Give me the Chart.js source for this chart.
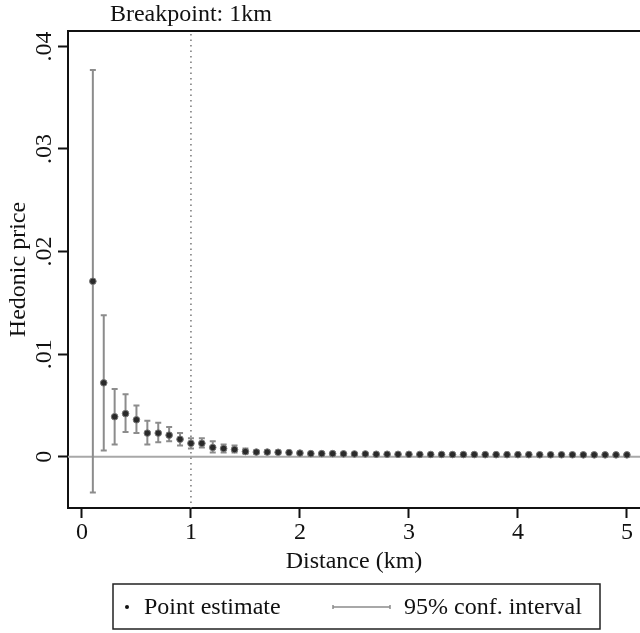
<!DOCTYPE html>
<html><head><meta charset="utf-8">
<script src="https://cdn.jsdelivr.net/npm/chart.js@4"></script>
<style>html,body{margin:0;padding:0;background:#fff;overflow:hidden}</style>
</head><body>
<canvas id="c" width="640" height="633"></canvas>
<script>
// ---- data ----
const distances = [0.1,0.2,0.3,0.4,0.5,0.6,0.7,0.8,0.9,1.0,
                   1.1,1.2,1.3,1.4,1.5,1.6,1.7,1.8,1.9,2.0,
                   2.1,2.2,2.3,2.4,2.5,2.6,2.7,2.8,2.9,3.0,
                   3.1,3.2,3.3,3.4,3.5,3.6,3.7,3.8,3.9,4.0,
                   4.1,4.2,4.3,4.4,4.5,4.6,4.7,4.8,4.9,5.0];
const estimates = [0.0171,0.0072,0.0039,0.0042,0.0036,0.0023,0.0023,0.0021,0.0017,0.0013,
                   0.0013,0.0009,0.0008,0.0007,0.0005,0.00045,0.00045,0.00043,0.0004,0.00035,
                   0.0003,0.0003,0.0003,0.00028,0.00027,0.00027,0.00024,0.00024,0.00023,0.00023,
                   0.00022,0.00022,0.00022,0.00021,0.00021,0.00021,0.0002,0.0002,0.0002,0.0002,
                   0.0002,0.00019,0.00019,0.00019,0.00019,0.00018,0.00018,0.00018,0.00018,0.00018];
const ciLower =   [-0.0035,0.0006,0.0012,0.0024,0.0023,0.0012,0.0014,0.0015,0.0011,0.0008,
                   0.0009,0.0004,0.0004,0.0004,0.0003,0.0003,0.0003,0.0003,0.0003,0.00028,
                   0.00025,0.00025,0.00025,0.00023,0.00022,0.00022,0.0002,0.0002,0.00019,0.00019,
                   0.00018,0.00018,0.00018,0.00017,0.00017,0.00017,0.00016,0.00016,0.00016,0.00016,
                   0.00016,0.00015,0.00015,0.00015,0.00015,0.00014,0.00014,0.00014,0.00014,0.00014];
const ciUpper =   [0.0377,0.0138,0.0066,0.0061,0.0050,0.0035,0.0033,0.0029,0.0023,0.0018,
                   0.0018,0.0015,0.0012,0.0011,0.0008,0.0006,0.0006,0.00057,0.00052,0.00045,
                   0.00038,0.00037,0.00036,0.00034,0.00032,0.00032,0.00029,0.00029,0.00028,0.00028,
                   0.00027,0.00027,0.00027,0.00026,0.00026,0.00026,0.00025,0.00025,0.00025,0.00025,
                   0.00025,0.00024,0.00024,0.00024,0.00024,0.00023,0.00023,0.00023,0.00023,0.00023];
const xTicks = [0,1,2,3,4,5];
const xTickLabels = ['0','1','2','3','4','5'];
const yTicks = [0,0.01,0.02,0.03,0.04];
const yTickLabels = ['0','.01','.02','.03','.04'];
const breakpoint = 1;
const breakpointLabel = 'Breakpoint: 1km';
const legendLabels = ['Point estimate','95% conf. interval'];

const FONT = "'Liberation Serif','Times New Roman',serif";
const FS = 24;

const points = distances.map((d,i)=>({x:d,y:estimates[i]}));

const decor = {
  id:'decor',
  beforeDatasetsDraw(chart){
    const {ctx, chartArea:a, scales:{x,y}} = chart;
    ctx.save();
    // zero line
    const y0 = y.getPixelForValue(0);
    ctx.strokeStyle='#a8a8a8'; ctx.lineWidth=2;
    ctx.beginPath(); ctx.moveTo(a.left,y0); ctx.lineTo(a.right,y0); ctx.stroke();
    // breakpoint dotted line
    const xb = x.getPixelForValue(breakpoint);
    ctx.strokeStyle='#777'; ctx.lineWidth=1.5; ctx.setLineDash([1.5,4]);
    ctx.beginPath(); ctx.moveTo(xb,a.top+3); ctx.lineTo(xb,a.bottom); ctx.stroke();
    ctx.setLineDash([]);
    // error bars
    ctx.strokeStyle='#8c8c8c'; ctx.lineWidth=2;
    distances.forEach((d,i)=>{
      const px = x.getPixelForValue(d);
      const pl = y.getPixelForValue(ciLower[i]);
      const pu = y.getPixelForValue(ciUpper[i]);
      ctx.beginPath();
      ctx.moveTo(px,pl); ctx.lineTo(px,pu);
      ctx.moveTo(px-3,pl); ctx.lineTo(px+3,pl);
      ctx.moveTo(px-3,pu); ctx.lineTo(px+3,pu);
      ctx.stroke();
    });
    // top border
    ctx.strokeStyle='#111'; ctx.lineWidth=2;
    ctx.beginPath(); ctx.moveTo(a.left-1,a.top); ctx.lineTo(a.right,a.top); ctx.stroke();
    ctx.restore();
  },
  afterDraw(chart){
    const {ctx, scales:{x}} = chart;
    ctx.save();
    ctx.fillStyle='#111';
    ctx.font = FS+'px '+FONT;
    ctx.textAlign='center'; ctx.textBaseline='middle';
    ctx.fillText(breakpointLabel, x.getPixelForValue(breakpoint), 15);
    // legend
    ctx.strokeStyle='#222'; ctx.lineWidth=1.5;
    ctx.strokeRect(113,584,487,45);
    const ly = 607;
    ctx.beginPath(); ctx.arc(127,ly,2,0,Math.PI*2); ctx.fill();
    ctx.textAlign='left';
    ctx.fillText(legendLabels[0],144,ly+1);
    ctx.strokeStyle='#8c8c8c'; ctx.lineWidth=1.5;
    ctx.beginPath(); ctx.moveTo(333,ly); ctx.lineTo(390,ly);
    ctx.moveTo(333,ly-2); ctx.lineTo(333,ly+2);
    ctx.moveTo(390,ly-2); ctx.lineTo(390,ly+2);
    ctx.stroke();
    ctx.fillText(legendLabels[1],404,ly+1);
    ctx.restore();
  }
};

new Chart(document.getElementById('c'),{
  type:'scatter',
  data:{datasets:[{
    label:legendLabels[0],
    data:points,
    pointRadius:3.3,
    pointBackgroundColor:'#2a2a2a',
    pointBorderColor:'#777',
    pointBorderWidth:1,
    showLine:false
  }]},
  options:{
    responsive:false, animation:false, devicePixelRatio:1,
    layout:{autoPadding:false, padding:{top:31,bottom:57,left:0,right:0}},
    plugins:{legend:{display:false},tooltip:{enabled:false},title:{display:false}},
    scales:{
      x:{
        type:'linear', min:-0.128, max:5.12,
        afterBuildTicks(s){ s.ticks = xTicks.map(v=>({value:v})); },
        afterFit(s){ s.height = 68; s.paddingLeft = 0; s.paddingRight = 0; },
        grid:{drawOnChartArea:false, drawTicks:true, tickLength:10, tickColor:'#111', tickWidth:2},
        border:{display:true,color:'#111',width:2},
        ticks:{color:'#111', font:{family:FONT,size:FS}, padding:0, maxRotation:0, minRotation:0,
               callback:(v)=>{const i=xTicks.indexOf(v);return i>=0?xTickLabels[i]:'';}},
        title:{display:true,text:'Distance (km)',color:'#111',font:{family:FONT,size:FS},padding:{top:0,bottom:0}}
      },
      y:{
        type:'linear', min:-0.005, max:0.0415,
        afterBuildTicks(s){ s.ticks = yTicks.map(v=>({value:v})); },
        afterFit(s){ s.width = 68; s.paddingTop = 0; s.paddingBottom = 0; },
        grid:{drawOnChartArea:false, drawTicks:true, tickLength:10, tickColor:'#111', tickWidth:2},
        border:{display:true,color:'#111',width:2},
        ticks:{color:'#111', font:{family:FONT,size:FS}, padding:-2, minRotation:90, maxRotation:90, crossAlign:'center',
               callback:(v)=>{const i=yTicks.findIndex(t=>Math.abs(t-v)<1e-9);return i>=0?yTickLabels[i]:'';}},
        title:{display:true,text:'Hedonic price',color:'#111',font:{family:FONT,size:FS},padding:{top:4,bottom:0}}
      }
    }
  },
  plugins:[decor]
});
</script>
</body></html>
